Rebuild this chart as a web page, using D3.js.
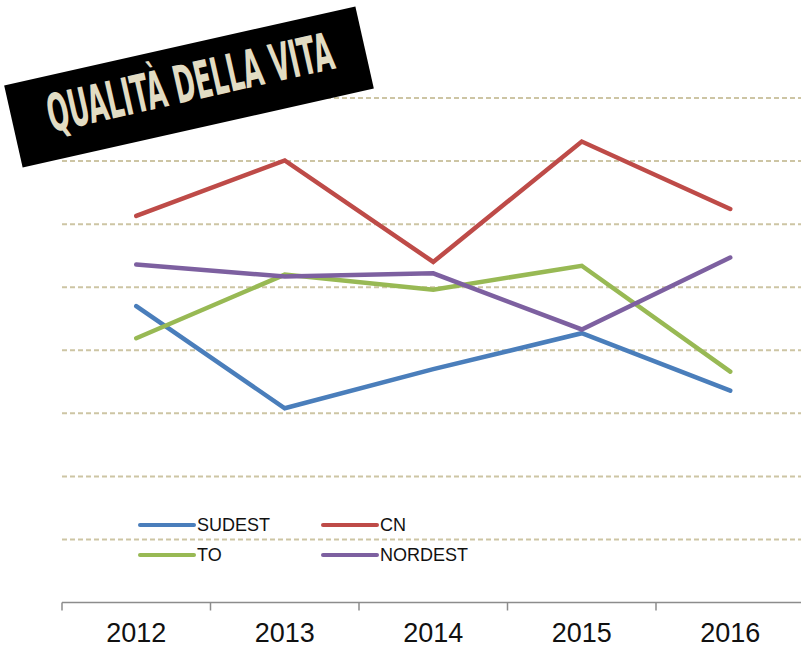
<!DOCTYPE html>
<html>
<head>
<meta charset="utf-8">
<script src="https://cdn.jsdelivr.net/npm/d3@7"></script>
<style>
  body { margin: 0; background: #fff; }
  svg { display: block; }
</style>
</head>
<body>
<svg></svg>
<script>
// ====== dimensions ====== //
const width = 801;
const height = 652;

// ====== données ====== //
const years = ["2012", "2013", "2014", "2015", "2016"];
const sudest = [4.70, 3.08, 3.70, 4.27, 3.36];
const cn = [6.13, 7.01, 5.40, 7.31, 6.24];
const to = [4.19, 5.20, 4.96, 5.34, 3.66];
const nordest = [5.36, 5.17, 5.22, 4.33, 5.47];
const seriesNames = ["SUDEST", "CN", "TO", "NORDEST"];
const seriesColors = ["#4a7ebb", "#be4b48", "#98b954", "#7d60a0"];
const gridValues = [1, 2, 3, 4, 5, 6, 7, 8];
const title = "QUALITÀ DELLA VITA";

const series = [sudest, cn, to, nordest].map((vals, i) => ({
  name: seriesNames[i], color: seriesColors[i], values: vals
}));

const svg = d3.select("svg")
  .attr("width", width)
  .attr("height", height);

// scales
const x = d3.scaleBand().domain(years).range([62, 804.5]).padding(0);
const y = d3.scaleLinear().domain([0, 8]).range([602.5, 98]);

// grid lines (dashed)
svg.append("g")
  .selectAll("line")
  .data(gridValues)
  .join("line")
  .attr("x1", 62)
  .attr("x2", width)
  .attr("y1", d => y(d))
  .attr("y2", d => y(d))
  .attr("stroke", "#cdc5a4")
  .attr("stroke-width", 2)
  .attr("stroke-dasharray", "5,3");

// x axis : labels at centres, ticks at band boundaries
const xAxis = svg.append("g")
  .attr("transform", `translate(0,${y(0)})`)
  .call(d3.axisBottom(x).tickSize(0).tickPadding(20));
xAxis.select(".domain")
  .attr("stroke", "#8c8c8c")
  .attr("stroke-width", 1.5)
  .attr("d", `M62,0H${width}`);
xAxis.selectAll("text")
  .attr("font-family", "'Liberation Sans', Arial, sans-serif")
  .attr("font-size", 27)
  .attr("fill", "#111");

xAxis.selectAll(".bound")
  .data(years)
  .join("line")
  .attr("class", "bound")
  .attr("x1", d => x(d))
  .attr("x2", d => x(d))
  .attr("y1", 0)
  .attr("y2", 8)
  .attr("stroke", "#8c8c8c")
  .attr("stroke-width", 1.5);

// lines
const line = d3.line()
  .x((d, i) => x(years[i]) + x.bandwidth() / 2)
  .y(d => y(d));

svg.append("g")
  .selectAll("path")
  .data(series)
  .join("path")
  .attr("d", d => line(d.values))
  .attr("fill", "none")
  .attr("stroke", d => d.color)
  .attr("stroke-width", 4.5)
  .attr("stroke-linecap", "round")
  .attr("stroke-linejoin", "miter");

// legend
const legend = svg.append("g");
const legItem = legend.selectAll("g")
  .data(series)
  .join("g")
  .attr("transform", (d, i) => `translate(${140 + (i % 2) * 183},${525 + Math.floor(i / 2) * 30})`);
legItem.append("line")
  .attr("x1", 0).attr("x2", 54)
  .attr("stroke", d => d.color)
  .attr("stroke-width", 4)
  .attr("stroke-linecap", "round");
legItem.append("text")
  .attr("x", 57)
  .attr("dy", "0.36em")
  .attr("font-family", "'Liberation Sans', Arial, sans-serif")
  .attr("font-size", 18)
  .attr("fill", "#111")
  .text(d => d.name);

// title : black box rotated
const tg = svg.append("g")
  .attr("transform", "translate(189,87) rotate(-12.7)");
tg.append("rect")
  .attr("x", -180).attr("y", -42)
  .attr("width", 360).attr("height", 84)
  .attr("fill", "#000");
tg.append("text")
  .attr("x", 2)
  .attr("y", 14)
  .attr("text-anchor", "middle")
  .attr("font-family", "'DejaVu Sans Condensed', 'Liberation Sans Narrow', sans-serif")
  .attr("font-weight", "bold")
  .attr("font-size", 52)
  .attr("textLength", 292)
  .attr("lengthAdjust", "spacingAndGlyphs")
  .attr("fill", "#e2dcc3")
  .text(title);
</script>
</body>
</html>
